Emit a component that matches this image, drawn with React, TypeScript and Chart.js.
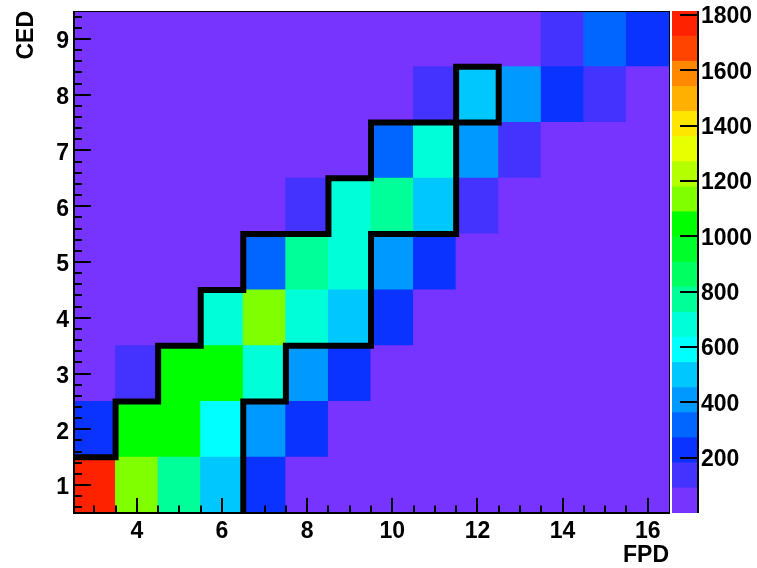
import React, { useEffect, useRef } from "react";
import { Chart, registerables } from "chart.js";

Chart.register(...registerables);

// FPD bin centres (x) and CED bin centres (y)
const fpdBins = [3, 4, 5, 6, 7, 8, 9, 10, 11, 12, 13, 14, 15, 16];
const cedBins = [1, 2, 3, 4, 5, 6, 7, 8, 9];

// Bin contents, one row per CED bin, entries follow fpdBins
const cedRow1 = [1815, 1128, 772, 497, 236, 38, 21, 14, 9, 6, 4, 3, 2, 2];
const cedRow2 = [241, 1042, 1017, 596, 418, 229, 44, 17, 10, 7, 5, 3, 2, 1];
const cedRow3 = [52, 146, 1053, 1031, 688, 412, 223, 36, 15, 9, 6, 4, 3, 2];
const cedRow4 = [18, 41, 67, 682, 1132, 676, 503, 238, 42, 14, 8, 5, 3, 2];
const cedRow5 = [9, 16, 33, 71, 317, 774, 689, 421, 226, 45, 12, 6, 4, 2];
const cedRow6 = [5, 8, 14, 29, 63, 152, 671, 763, 497, 131, 39, 11, 5, 3];
const cedRow7 = [3, 5, 7, 12, 24, 58, 84, 324, 684, 414, 137, 34, 9, 4];
const cedRow8 = [2, 3, 4, 6, 11, 19, 47, 79, 148, 506, 408, 233, 142, 55];
const cedRow9 = [1, 2, 2, 3, 5, 8, 16, 31, 62, 83, 86, 151, 322, 236];
const countsByCed = [cedRow1, cedRow2, cedRow3, cedRow4, cedRow5, cedRow6, cedRow7, cedRow8, cedRow9];

// Selection contour drawn over the map (bin-edge coordinates)
const contourFpd = [6.5, 6.5, 7.5, 7.5, 9.5, 9.5, 11.5, 11.5, 12.5, 12.5, 9.5, 9.5, 8.5, 8.5, 6.5, 6.5, 5.5, 5.5, 4.5, 4.5, 3.5, 3.5, 2.5];
const contourCed = [0.5, 2.5, 2.5, 3.5, 3.5, 5.5, 5.5, 8.5, 8.5, 7.5, 7.5, 6.5, 6.5, 5.5, 5.5, 4.5, 4.5, 3.5, 3.5, 2.5, 2.5, 1.5, 1.5];

// Axis tick labels
const fpdTicks = [4, 6, 8, 10, 12, 14, 16];
const cedTicks = [1, 2, 3, 4, 5, 6, 7, 8, 9];
const zTicks = [200, 400, 600, 800, 1000, 1200, 1400, 1600, 1800];

// 20-level violet -> red palette
const paletteColors = [
  "#7733ff", "#4433ff", "#0a33ff", "#0066ff", "#0099ff",
  "#00c8ff", "#00ffff", "#00ffd8", "#00ff98", "#00ff60",
  "#00ff2a", "#00ff00", "#80ff00", "#b4ff00", "#e8ff00",
  "#ffe600", "#ffb000", "#ff8800", "#ff4400", "#ff2200",
];

const nLevels = paletteColors.length;
const zMax = Math.max(...countsByCed.flat());

const colorFor = (v: number) =>
  paletteColors[Math.max(0, Math.min(nLevels - 1, Math.floor((v / zMax) * nLevels)))];

const labelFont = { family: "'Liberation Sans', Arial, sans-serif", size: 23, weight: "bold" as const };
const titleFont = { ...labelFont, lineHeight: 1.1 };

const plainNumber = (v: number | string) => String(v);

const noScalePadding = (s: any) => {
  s.paddingTop = 0;
  s.paddingBottom = 0;
  s.paddingLeft = 0;
  s.paddingRight = 0;
};

// Frame and inward tick marks of the map
const framePlugin = {
  id: "mapFrame",
  afterDatasetsDraw(chart: any) {
    const { ctx, chartArea: a, scales } = chart;
    const xs = scales.x;
    const ys = scales.y;
    ctx.save();
    ctx.fillStyle = "#000";
    // outer frame: thin top/right, thick left/bottom axes
    ctx.fillRect(a.left, a.top, a.right - a.left + 1, 1);
    ctx.fillRect(a.right, a.top, 1, a.bottom - a.top);
    ctx.fillRect(a.left, a.top, 2, a.bottom - a.top + 1);
    ctx.fillRect(a.left, a.bottom - 1, a.right - a.left + 1, 2);

    const h = a.bottom - a.top;
    const w = a.right - a.left;
    // x ticks every 0.5, long at the labelled values
    for (let k = 0; k <= 26; k++) {
      const v = 3 + k * 0.5;
      const px = Math.round(xs.getPixelForValue(v));
      const major = fpdTicks.includes(v);
      const len = major ? 0.03 * h : 0.015 * h;
      ctx.fillRect(px - 1, a.bottom - len, 2, len);
    }
    // y ticks every 0.2, long at integers
    for (let k = 0; k <= 44; k++) {
      const v = 0.6 + k * 0.2;
      const py = Math.round(ys.getPixelForValue(v));
      const major = Math.abs(v - Math.round(v)) < 1e-6;
      const len = major ? 0.03 * w : 0.015 * w;
      ctx.fillRect(a.left, py - 1, len, 2);
    }
    ctx.restore();
  },
};

// Axis line and ticks of the colour scale
const paletteAxisPlugin = {
  id: "paletteAxis",
  afterDatasetsDraw(chart: any) {
    const { ctx, chartArea: a, scales } = chart;
    const ys = scales.y;
    ctx.save();
    ctx.fillStyle = "#000";
    ctx.fillRect(a.right, a.top, 2, a.bottom - a.top);
    for (const v of zTicks) {
      const py = Math.round(ys.getPixelForValue(v));
      ctx.fillRect(a.right - 17, py - 1, 18, 2);
    }
    ctx.restore();
  },
};

export default function App() {
  const mapRef = useRef<HTMLCanvasElement>(null);
  const paletteRef = useRef<HTMLCanvasElement>(null);

  useEffect(() => {
    const cellDatasets: any[] = cedBins.map((ced, r) => ({
      type: "bar",
      data: fpdBins.map((fpd) => ({ x: fpd, y: [ced - 0.5, ced + 0.5] })),
      backgroundColor: countsByCed[r].map(colorFor),
      borderWidth: 0,
      grouped: false,
      barPercentage: 1,
      categoryPercentage: 1,
      inflateAmount: 0.5,
    }));

    const contourDataset: any = {
      type: "line",
      data: contourFpd.map((x, i) => ({ x, y: contourCed[i] })),
      borderColor: "#000",
      borderWidth: 6,
      borderJoinStyle: "miter",
      borderCapStyle: "butt",
      pointRadius: 0,
      tension: 0,
      fill: false,
      clip: 0,
      order: -1,
    };

    const mapChart = new Chart(mapRef.current as HTMLCanvasElement, {
      type: "bar",
      data: { datasets: [...cellDatasets, contourDataset] },
      options: {
        animation: false,
        responsive: false,
        devicePixelRatio: 1,
        events: [],
        layout: { padding: { left: 0, top: 11, right: 88, bottom: 0 } },
        plugins: { legend: { display: false }, tooltip: { enabled: false } },
        scales: {
          x: {
            type: "linear",
            min: 2.5,
            max: 16.5,
            offset: false,
            grid: { display: false, drawTicks: false },
            border: { display: false },
            afterBuildTicks: (s: any) => {
              s.ticks = fpdTicks.map((value) => ({ value }));
            },
            afterFit: (s: any) => {
              s.height = 55;
              noScalePadding(s);
            },
            ticks: { font: labelFont, color: "#000", padding: 5, maxRotation: 0, autoSkip: false, callback: plainNumber },
            title: { display: true, text: "FPD", align: "end", font: titleFont, color: "#000", padding: 0 },
          },
          y: {
            type: "linear",
            min: 0.5,
            max: 9.5,
            grid: { display: false, drawTicks: false },
            border: { display: false },
            afterBuildTicks: (s: any) => {
              s.ticks = cedTicks.map((value) => ({ value }));
            },
            afterFit: (s: any) => {
              s.width = 73;
              noScalePadding(s);
            },
            ticks: { font: labelFont, color: "#000", padding: 4, labelOffset: 3, autoSkip: false, callback: plainNumber },
            title: { display: true, text: "CED", align: "end", font: labelFont, color: "#000", padding: { top: 13, bottom: 0 } },
          },
        },
      } as any,
      plugins: [framePlugin],
    });

    const paletteChart = new Chart(paletteRef.current as HTMLCanvasElement, {
      type: "bar",
      data: {
        labels: [""],
        datasets: paletteColors.map((c) => ({
          data: [zMax / nLevels],
          backgroundColor: c,
          borderWidth: 0,
          barPercentage: 1,
          categoryPercentage: 1,
        })),
      },
      options: {
        animation: false,
        responsive: false,
        devicePixelRatio: 1,
        events: [],
        layout: { padding: { left: 12, top: 11, right: 0, bottom: 55 } },
        plugins: { legend: { display: false }, tooltip: { enabled: false } },
        scales: {
          x: { type: "category", stacked: true, display: false },
          y: {
            type: "linear",
            position: "right",
            stacked: true,
            min: 0,
            max: zMax,
            grid: { display: false, drawTicks: false },
            border: { display: false },
            afterBuildTicks: (s: any) => {
              s.ticks = zTicks.map((value) => ({ value }));
            },
            afterFit: (s: any) => {
              s.width = 60;
              noScalePadding(s);
            },
            ticks: { font: labelFont, color: "#000", padding: 4, labelOffset: 2, autoSkip: false, callback: plainNumber },
          },
        },
      } as any,
      plugins: [paletteAxisPlugin],
    });

    return () => {
      mapChart.destroy();
      paletteChart.destroy();
    };
  }, []);

  return (
    <div style={{ position: "absolute", left: 0, top: 0, width: 757, height: 568, background: "#fff" }}>
      <canvas ref={mapRef} width={757} height={568} style={{ position: "absolute", left: 0, top: 0 }} />
      <canvas ref={paletteRef} width={97} height={568} style={{ position: "absolute", left: 660, top: 0 }} />
    </div>
  );
}
